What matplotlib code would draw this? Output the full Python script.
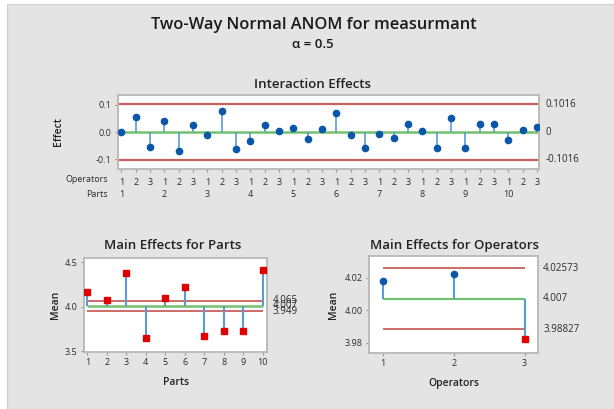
import numpy as np
import matplotlib.pyplot as plt
from matplotlib.patches import Rectangle
from matplotlib.transforms import blended_transform_factory

plt.rcParams['font.family'] = ['Open Sans', 'DejaVu Sans']

# ---- data ----
operators = [1, 2, 3]
parts = list(range(1, 11))

interaction = [0.000, 0.057, -0.054, 0.041, -0.070, 0.027, -0.010, 0.077, -0.062, -0.031,
               0.025, 0.005, 0.016, -0.026, 0.011, 0.071, -0.010, -0.058, -0.006, -0.023,
               0.029, 0.005, -0.058, 0.052, -0.058, 0.029, 0.029, -0.027, 0.007, 0.020]
inter_limit = 0.1016

part_means = [4.160, 4.078, 4.373, 3.646, 4.100, 4.224, 3.672, 3.731, 3.731, 4.410]
part_center = 4.007
part_udl = 4.065
part_ldl = 3.949

oper_means = [4.0181, 4.0221, 3.9820]
oper_center = 4.007
oper_udl = 4.02573
oper_ldl = 3.98827

# ---- style ----
BG = "#e4e4e4"
FRAME = "#b8b8b8"
RED_LINE = "#c9605c"
GREEN = "#72c16f"
STEM = "#5b9bd5"
BLUE_PT = "#0a56a8"
RED_PT = "#e00000"
TXT = "#2b2b2b"

W, H = 614, 409
fig = plt.figure(figsize=(W / 100, H / 100), dpi=100, facecolor="white")
fig.patches.append(Rectangle((7 / W, 0), 1 - 7 / W, 1 - 4 / H, transform=fig.transFigure,
                             facecolor=BG, edgecolor="#d0d0d0", lw=0.8, zorder=-10))


def add_px_axes(left, right, top, bottom):
    return fig.add_axes([left / W, 1 - bottom / H, (right - left) / W, (bottom - top) / H])


def style_axes(ax):
    ax.set_facecolor("white")
    for s in ax.spines.values():
        s.set_color(FRAME)
        s.set_linewidth(1.3)
    ax.tick_params(direction="out", length=2.5, width=0.8, color="#999999",
                   labelsize=6.5, labelcolor=TXT, pad=2)


def px_text(x, y, s, **kw):
    fig.text(x / W, 1 - y / H, s, **kw)


# titles
px_text(314, 25, "Two-Way Normal ANOM for measurmant", ha="center", va="center",
        fontsize=11.8, fontweight="semibold", color="#1a1a1a")
px_text(313, 45, "α = 0.5", ha="center", va="center", fontsize=9.5,
        fontweight="semibold", color="#1a1a1a")

# ---- interaction effects ----
ax1 = add_px_axes(118, 539, 95, 169)
style_axes(ax1)
xi = np.arange(1, len(interaction) + 1)
ax1.axhline(inter_limit, color=RED_LINE, lw=1.6, zorder=1)
ax1.axhline(-inter_limit, color=RED_LINE, lw=1.6, zorder=1)
ax1.axhline(0, color=GREEN, lw=1.8, zorder=1)
ax1.vlines(xi, 0, interaction, color=STEM, lw=1.2, zorder=2)
ax1.plot(xi, interaction, "o", color=BLUE_PT, ms=4.5, zorder=3)
ax1.set_xlim(0.77, 30.14)
ax1.set_ylim(-0.135, 0.136)
ax1.set_yticks([-0.1, 0.0, 0.1])
ax1.set_yticklabels(["-0.1", "0.0", "0.1"])
ax1.set_xticks(xi)
ax1.set_xticklabels([str(operators[i % 3]) for i in range(len(xi))])
ax1.tick_params(axis="x", pad=4)
trans = blended_transform_factory(ax1.transData, fig.transFigure)
for k, p in enumerate(parts):
    ax1.text(xi[3 * k], 1 - 195 / H, str(p), transform=trans, ha="center", va="center",
             fontsize=6.5, color=TXT)
px_text(108, 180, "Operators", ha="right", va="center", fontsize=6.5, color=TXT)
px_text(108, 195, "Parts", ha="right", va="center", fontsize=6.5, color=TXT)
px_text(58, 132, "Effect", ha="center", va="center", rotation=90, fontsize=7.5,
        fontweight="semibold", color="#222222")
for val, lab in [(inter_limit, "0.1016"), (0, "0"), (-inter_limit, "-0.1016")]:
    ax1.text(1.015, val, lab, transform=blended_transform_factory(ax1.transAxes, ax1.transData),
             ha="left", va="center", fontsize=7, color=TXT)
px_text(312, 84, "Interaction Effects", ha="center", va="center", fontsize=9.5,
        fontweight="semibold", color="#222222")

# ---- main effects for parts ----
ax2 = add_px_axes(84, 267, 258, 352)
style_axes(ax2)
xp = np.array(parts)
ax2.hlines([part_udl, part_ldl], xp[0], xp[-1], color=RED_LINE, lw=1.3, zorder=1)
ax2.hlines(part_center, xp[0], xp[-1], color=GREEN, lw=1.8, zorder=1)
ax2.vlines(xp, part_center, part_means, color=STEM, lw=1.5, zorder=2)
ax2.plot(xp, part_means, "s", color=RED_PT, ms=4.5, zorder=3)
ax2.set_xlim(0.83, 10.22)
ax2.set_ylim(3.49, 4.545)
ax2.set_yticks([3.5, 4.0, 4.5])
ax2.set_yticklabels(["3.5", "4.0", "4.5"])
ax2.set_xticks(xp)
ax2.set_ylabel("Mean", fontsize=7.5, fontweight="semibold", color="#222222", labelpad=3)
ax2.set_xlabel("Parts", fontsize=7.5, fontweight="semibold", color="#222222", labelpad=7)
tr2 = blended_transform_factory(ax2.transAxes, ax2.transData)
# Minitab stacks these three labels on top of each other
for val, lab in [(part_udl, "4.065"), (part_center, "4.007"), (part_ldl, "3.949")]:
    ax2.text(1.03, val, lab, transform=tr2, ha="left", va="center", fontsize=7, color=TXT)
px_text(173, 245, "Main Effects for Parts", ha="center", va="center", fontsize=9.5,
        fontweight="semibold", color="#222222")

# ---- main effects for operators ----
ax3 = add_px_axes(369, 538, 256, 353)
style_axes(ax3)
xo = np.array(operators)
ax3.hlines([oper_udl, oper_ldl], xo[0], xo[-1], color=RED_LINE, lw=1.3, zorder=1)
ax3.hlines(oper_center, xo[0], xo[-1], color=GREEN, lw=1.6, zorder=1)
ax3.vlines(xo, oper_center, oper_means, color=STEM, lw=1.5, zorder=2)
for x, m in zip(xo, oper_means):
    if oper_ldl <= m <= oper_udl:
        ax3.plot(x, m, "o", color=BLUE_PT, ms=4.5, zorder=3)
    else:
        ax3.plot(x, m, "s", color=RED_PT, ms=4.5, zorder=3)
ax3.set_xlim(0.806, 3.19)
ax3.set_ylim(3.9736, 4.0334)
ax3.set_yticks([3.98, 4.00, 4.02])
ax3.set_yticklabels(["3.98", "4.00", "4.02"])
ax3.set_xticks(xo)
ax3.set_ylabel("Mean", fontsize=7.5, fontweight="semibold", color="#222222", labelpad=4)
ax3.set_xlabel("Operators", fontsize=7.5, fontweight="semibold", color="#222222", labelpad=7)
tr3 = blended_transform_factory(ax3.transAxes, ax3.transData)
for val, lab in [(oper_udl, "4.02573"), (oper_center, "4.007"), (oper_ldl, "3.98827")]:
    ax3.text(1.03, val, lab, transform=tr3, ha="left", va="center", fontsize=7, color=TXT)
px_text(454, 245, "Main Effects for Operators", ha="center", va="center", fontsize=9.5,
        fontweight="semibold", color="#222222")

fig.savefig("out.png", dpi=100, facecolor="white")
